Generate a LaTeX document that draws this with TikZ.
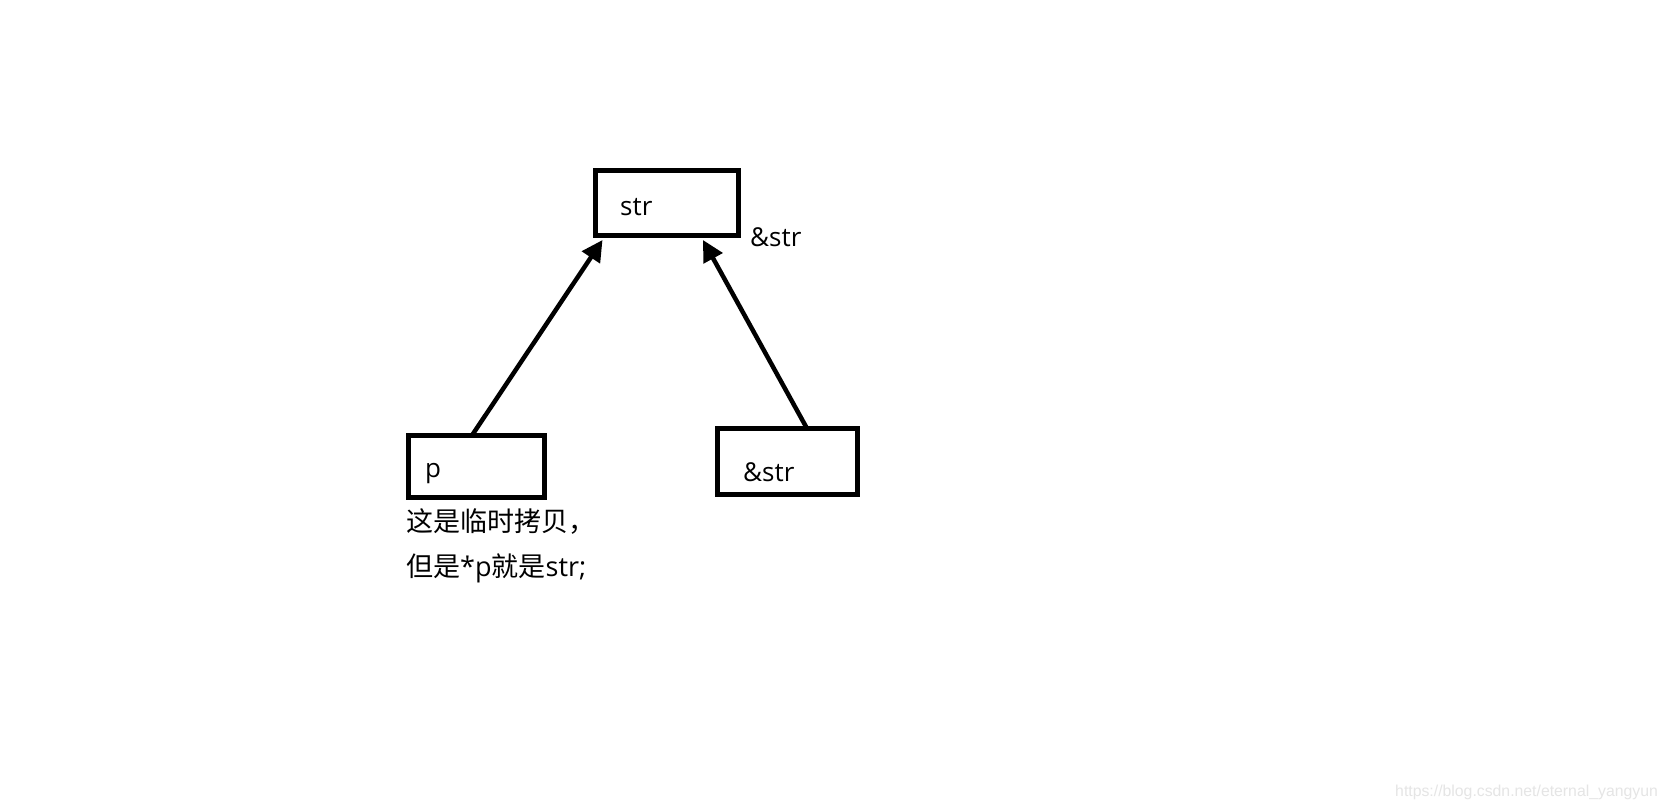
\documentclass[tikz,border=0pt]{standalone}
\usepackage{fontspec}
\setmainfont{Open Sans}
\newfontfamily\cjk{Noto Sans CJK SC}
\newfontfamily\wmfont{Liberation Sans}
\usetikzlibrary{arrows.meta}
\tikzset{
  box/.style={draw=black, line width=5pt, rectangle, inner sep=0pt, outer sep=0pt, fill=white},
  txt/.style={anchor=base west, inner sep=0pt, font=\fontsize{26}{30}\selectfont},
  cjktxt/.style={anchor=base west, inner sep=0pt, font=\fontsize{27}{30}\selectfont},
  arr/.style={line width=4.5pt, -{Triangle[length=21pt,width=21pt]}},
  wm/.style={anchor=base west, inner sep=0pt, text=black!10, font=\wmfont\fontsize{15.8}{18}\selectfont}
}
\begin{document}
\begin{tikzpicture}[x=1pt,y=-1pt]
\useasboundingbox[fill=white] (0,0) rectangle (1667,809);
% boxes
\node[box, minimum width=143pt, minimum height=64.5pt] (strbox) at (667,202.75) {};
\node[box, minimum width=135.5pt, minimum height=62pt] (pbox) at (476.25,466) {};
\node[box, minimum width=140pt, minimum height=66pt] (abox) at (787.5,461.5) {};
% texts
\node[txt] (strtxt) at (620,215) {str};
\node[txt] (addrlbl) at (750,246) {\&str};
\node[txt] (ptxt) at (425,477) {p};
\node[txt] (atxt) at (743,481) {\&str};
\node[cjktxt] (note1) at (406,531) {\cjk 这是临时拷贝，};
\node[cjktxt] (note2) at (406,576) {{\cjk 但是}*p{\cjk 就是}str;};
\node[wm] (wmark) at (1395,796) {https://blog.csdn.net/eternal\_yangyun};
% arrows
\draw[arr] ([xshift=-4pt]pbox.north) -- ([xshift=7pt,yshift=-5pt]strbox.south west);
\draw[arr] ([xshift=19.5pt]abox.north) -- ([xshift=36pt,yshift=-5pt]strbox.south);
\end{tikzpicture}
\end{document}
